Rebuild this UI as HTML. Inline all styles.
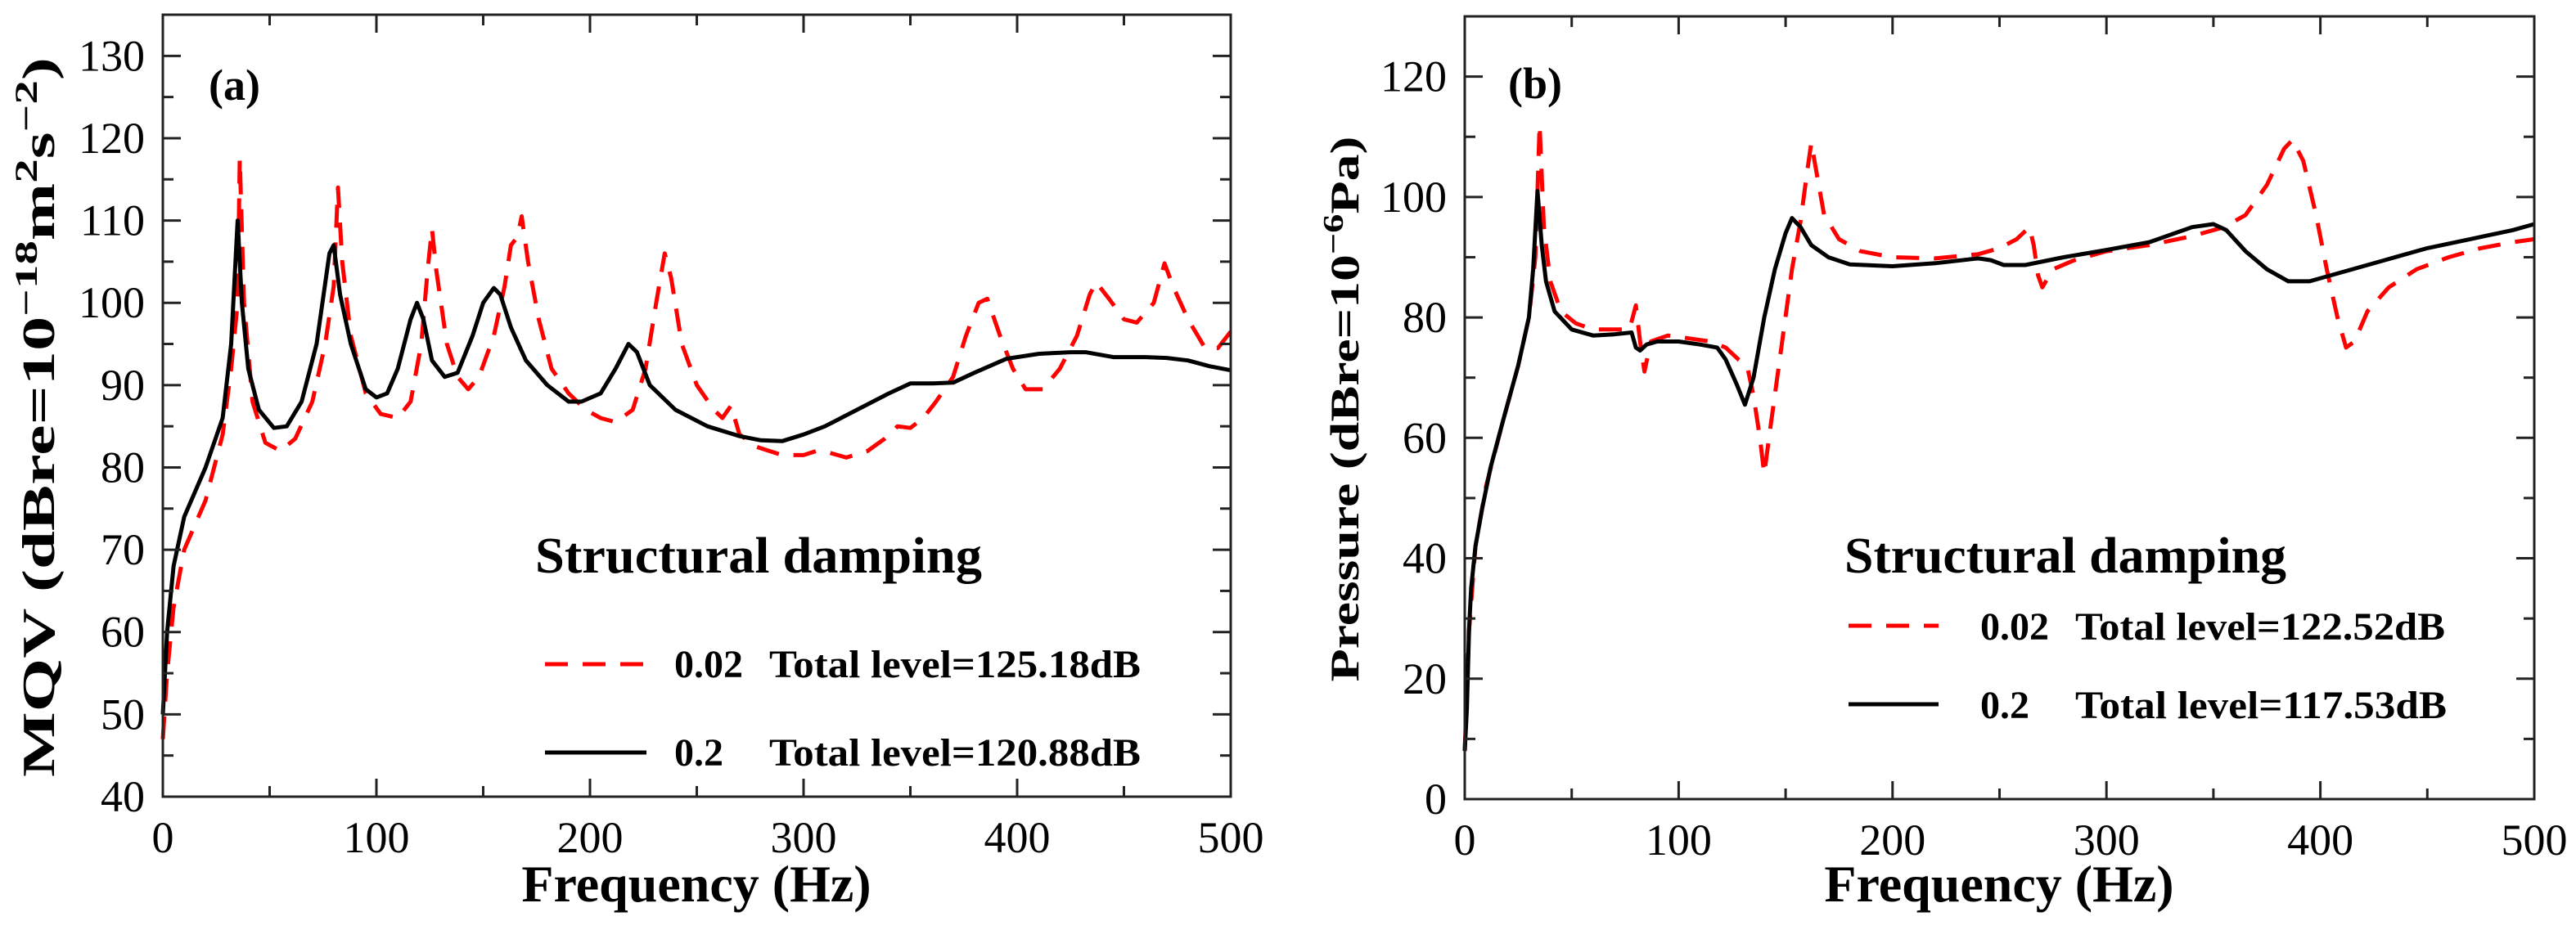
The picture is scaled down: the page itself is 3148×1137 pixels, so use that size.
<!DOCTYPE html>
<html><head><meta charset="utf-8"><style>
html,body{margin:0;padding:0;background:#fff}
svg{display:block}
text{font-family:"Liberation Serif",serif;fill:#000}
</style></head><body>
<svg id="chart" width="3148" height="1137" viewBox="0 0 3148 1137" xmlns="http://www.w3.org/2000/svg"></svg>
<script>
// Panel (a) data: MQV
const aFreqRed=[0,2,5,10,20,28,32,35,36,38,42,48,55,62,70,76,80,82,84,88,95,102,110,116,121,124,126,128,133,138,143,148,155,160,163,166,168,171,176,182,190,198,205,212,220,226,231,235,238,243,250,258,262,266,270,278,290,300,306,312,320,330,338,344,350,356,362,370,376,382,386,392,398,404,412,420,428,434,437,443,450,456,464,469,473,480,488,494,500];
const aRed=[47,55,63,70,76,84,92,100,117.5,100,88,83,82,83.5,88,95,102,114,105,96,89,86.5,86,88,95,104,109,104,95,91,89.5,91,96,102,107,108,110.5,105,98,92,89,87,86,85.5,87,92,100,106,103,95,90,87,86,87.5,84,82.5,81.5,81.5,82,81.8,81.2,82,83.5,85,84.8,86,88,91,96,100,100.5,96,92,89.5,89.5,92,96,101,102.5,100.5,98,97.6,100,104.8,102,98,94.5,94.5,96.5];
const aFreqBlack=[0,2,5,10,20,28,32,35,37,40,45,52,58,65,72,78,80,83,88,95,100,105,110,116,119,122,126,132,138,145,150,155,158,163,170,180,190,196,205,212,218,222,228,240,255,270,280,290,300,310,325,340,350,360,370,380,395,410,425,432,445,460,470,480,490,500];
const aBlack=[50,60,68,74,80,86,95,110,100,92,87,84.8,85,88,95,106,107,101,95,89.5,88.5,89,92,98,100,98,93,91,91.5,96,100,101.8,101,97,93,90,88,88,89,92,95,94,90,87,85,83.8,83.3,83.2,84,85,87,89,90.2,90.2,90.3,91.5,93.2,93.8,94,94,93.4,93.4,93.3,93,92.3,91.8];
// Panel (b) data: Pressure
const bFreqRed=[0,2,5,10,18,25,30,33,35,37,40,45,52,60,70,77,80,82,84,87,95,105,115,122,128,132,135,138,140,143,148,153,157,160,162,165,168,175,185,200,220,240,250,258,264,266,268,270,275,285,300,320,340,355,365,375,383,387,392,398,403,408,412,416,422,432,445,460,475,490,500];
const bRed=[8,28,42,52,63,72,80,90,112,95,86,81,79,78,78,78,82,76,71,76,77,76.5,76,75,73,72,67,60,54,62,75,88,96,104,109,103,97,93,91,90,89.8,90.5,91.5,93,95,92,87,85,88,89.5,91,92,93.5,95,97,102,108,109.5,106,97,88,80,75,76,81,85,88,90,91.5,92.5,93];
const bFreqBlack=[0,1,2,3,5,8,12,18,25,30,32,34,36,38,42,50,60,70,78,80,82,85,90,100,110,118,122,127,131,135,140,145,150,153,157,162,170,180,200,220,240,246,252,262,280,300,320,340,350,356,365,375,385,395,410,430,450,470,490,500];
const bBlack=[8,15,28,35,42,48,55,63,72,80,88,101,92,86,81,78,77,77.2,77.5,75,74.5,75.5,76,76,75.5,75,73,69,65.5,70,80,88,94,96.5,95,92,90,88.8,88.5,89,89.8,89.5,88.7,88.7,90,91.2,92.5,95,95.5,94.5,91,88,86,86,87.5,89.5,91.5,93,94.5,95.5];
const xTicks=[0,100,200,300,400,500];
const aYTicks=[40,50,60,70,80,90,100,110,120,130];
const bYTicks=[0,20,40,60,80,100,120];

const NS="http://www.w3.org/2000/svg";
const svg=document.getElementById('chart');
function mk(tag,attrs,parent){const e=document.createElementNS(NS,tag);for(const k in attrs)e.setAttribute(k,attrs[k]);(parent||svg).appendChild(e);return e;}

function panel(p){
  const g=mk('g',{});
  
  
  const sx=v=>p.x0+(v-0)/(500)*(p.x1-p.x0);
  const sy=v=>p.y1-(v-p.ymin)/(p.ymax-p.ymin)*(p.y1-p.y0);
  function line(fx,fy,name,stroke,dash){
    const d=fx.map((f,i)=>(i?'L':'M')+sx(f).toFixed(1)+' '+sy(fy[i]).toFixed(1)).join(' ');
    const e=mk('path',{d:d,fill:'none',stroke:stroke,'stroke-width':5,'stroke-linejoin':'round'},g);
    if(dash)e.setAttribute('stroke-dasharray',dash);
    
    
  }
  line(p.fr,p.vr,'series-damping-0.02','#ff0000','28 18');
  line(p.fb,p.vb,'series-damping-0.2','#000','');
  const fr=mk('rect',{x:p.x0,y:p.y0,width:p.x1-p.x0,height:p.y1-p.y0,fill:'none',stroke:'#222','stroke-width':3},g);
  
  
  for(let v=0;v<=500;v+=50){
    const L=v%100===0?22:13;const X=sx(v);
    mk('line',{x1:X,y1:p.y1,x2:X,y2:p.y1-L,stroke:'#222','stroke-width':3},g);
    mk('line',{x1:X,y1:p.y0,x2:X,y2:p.y0+L,stroke:'#222','stroke-width':3},g);
  }
  xTicks.forEach(v=>{
    const t=mk('text',{x:sx(v),y:p.y1+68,'font-size':54,'text-anchor':'middle'},g);
    t.textContent=v;
    
    
  });
  for(let v=p.ymin;v<=p.ymax+0.01;v+=p.minor){
    const L=(Math.round(v)%p.major===0)?22:13;const Y=sy(v);
    if(Y<p.y0-1)continue;
    mk('line',{x1:p.x0,y1:Y,x2:p.x0+L,y2:Y,stroke:'#222','stroke-width':3},g);
    mk('line',{x1:p.x1,y1:Y,x2:p.x1-L,y2:Y,stroke:'#222','stroke-width':3},g);
  }
  p.yt.forEach(v=>{
    const t=mk('text',{x:p.x0-22,y:sy(v)+18,'font-size':54,'text-anchor':'end'},g);
    t.textContent=v;
    
    
  });
  return {g,sx,sy};
}
const A=panel({name:'panel-a',x0:199,x1:1504,y0:18,y1:974,ymin:40,ymax:135,minor:5,major:10,yt:aYTicks,fr:aFreqRed,vr:aRed,fb:aFreqBlack,vb:aBlack});
const B=panel({name:'panel-b',x0:1790,x1:3097,y0:20,y1:977,ymin:0,ymax:130,minor:10,major:20,yt:bYTicks,fr:bFreqRed,vr:bRed,fb:bFreqBlack,vb:bBlack});

const T=[
 ['panel-a-label',255,122,54,'bold','start','(a)',0],
 ['panel-b-label',1843,120,54,'bold','start','(b)',0],
 ['x-axis-title-a',851,1102,64,'bold','middle','Frequency (Hz)',0],
 ['x-axis-title-b',2443,1102,64,'bold','middle','Frequency (Hz)',0],
 ['legend-title-a',654,700,62,'bold','start','Structural damping',546],
 ['legend-title-b',2254,700,62,'bold','start','Structural damping',540],
 ['legend-value-a-red',824,828,48,'bold','start','0.02',0],
 ['legend-label-a-red',940,828,48,'bold','start','Total level=125.18dB',454],
 ['legend-value-a-black',824,936,48,'bold','start','0.2',0],
 ['legend-label-a-black',940,936,48,'bold','start','Total level=120.88dB',454],
 ['legend-value-b-red',2420,782,48,'bold','start','0.02',0],
 ['legend-label-b-red',2536,782,48,'bold','start','Total level=122.52dB',452],
 ['legend-value-b-black',2420,878,48,'bold','start','0.2',0],
 ['legend-label-b-black',2536,878,48,'bold','start','Total level=117.53dB',454]
];
T.forEach(a=>{
  const t=document.createElementNS(NS,'text');
  t.setAttribute('x',a[1]);t.setAttribute('y',a[2]);t.setAttribute('font-size',a[3]);
  t.setAttribute('font-weight',a[4]);t.setAttribute('text-anchor',a[5]);
  if(a[7]){t.setAttribute('textLength',a[7]);t.setAttribute('lengthAdjust','spacingAndGlyphs');}
  t.textContent=a[6];
  
  
  svg.appendChild(t);
});
[[666,790,812,'#ff0000','28 18','legend-line-a-red'],[666,790,920,'#000','','legend-line-a-black'],
 [2259,2369,765,'#ff0000','28 18','legend-line-b-red'],[2259,2369,861,'#000','','legend-line-b-black']].forEach(l=>{
  const e=document.createElementNS(NS,'line');
  e.setAttribute('x1',l[0]);e.setAttribute('x2',l[1]);e.setAttribute('y1',l[2]);e.setAttribute('y2',l[2]);
  e.setAttribute('stroke',l[3]);e.setAttribute('stroke-width',5);
  if(l[4])e.setAttribute('stroke-dasharray',l[4]);
  
  
  svg.appendChild(e);
});
function ytitle(name,x,y,parts,size,len){
  const t=document.createElementNS(NS,'text');
  t.setAttribute('transform','translate('+x+','+y+') rotate(-90)');
  t.setAttribute('text-anchor','middle');t.setAttribute('font-size',size);t.setAttribute('font-weight','bold');
  t.setAttribute('textLength',len);t.setAttribute('lengthAdjust','spacingAndGlyphs');
  parts.forEach(p=>{const s=document.createElementNS(NS,'tspan');s.textContent=p[0];
    if(p[1]){s.setAttribute('baseline-shift','super');s.setAttribute('font-size',size*0.7);}
    t.appendChild(s);});
  
  
  svg.appendChild(t);
}
ytitle('y-axis-title-a',66,510,[['MQV (dBre=10'],['\u221218',1],['m'],['2',1],['s'],['\u22122',1],[')']],56,880);
ytitle('y-axis-title-b',1660,500,[['Pressure (dBre=10'],['\u22126',1],['Pa)']],50,667);
</script>
</body></html>
